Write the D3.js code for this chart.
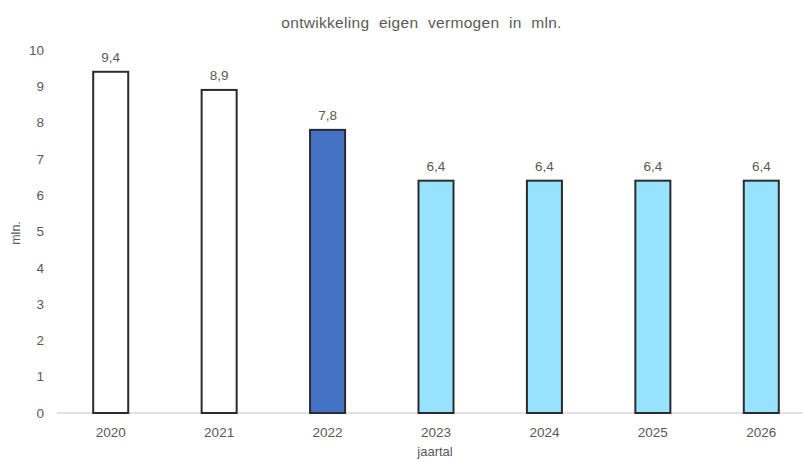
<!DOCTYPE html>
<html><head><meta charset="utf-8">
<script src="https://cdn.jsdelivr.net/npm/d3@7"></script>
<style>body{margin:0;background:#fff}svg{display:block}text{font-family:"Liberation Sans",Arial,sans-serif;fill:#595959}</style>
</head><body><svg id="c" width="803" height="459"></svg>
<script>
const years = ["2020","2021","2022","2023","2024","2025","2026"];
const values = [9.4, 8.9, 7.8, 6.4, 6.4, 6.4, 6.4];
const labels = ["9,4","8,9","7,8","6,4","6,4","6,4","6,4"];
const fills = ["#ffffff","#ffffff","#4472C4","#97E2FF","#97E2FF","#97E2FF","#97E2FF"];
const yTicks = [0,1,2,3,4,5,6,7,8,9,10];

const svg = d3.select("#c");
const x = d3.scaleBand().domain(years).range([56.5, 815.5]).paddingInner(0.677).paddingOuter(0.3385);
const y = d3.scaleLinear().domain([0,10]).range([413, 50]);

svg.append("text").attr("x",421.5).attr("y",28).attr("text-anchor","middle").attr("font-size",15.5)
  .attr("letter-spacing",0.3).attr("word-spacing",5).text("ontwikkeling eigen vermogen in mln.");

// axis line
svg.append("line").attr("x1",57).attr("x2",803).attr("y1",y(0)).attr("y2",y(0)).attr("stroke","#d9d9d9").attr("stroke-width",1.5);

// y tick labels
svg.selectAll(".yt").data(yTicks).enter().append("text").attr("class","yt")
  .attr("x",44).attr("y",d=>y(d)).attr("dy","0.35em").attr("text-anchor","end").attr("font-size",13.5).text(d=>d);

// bars
svg.selectAll(".bar").data(values).enter().append("rect").attr("class","bar")
  .attr("x",(d,i)=>x(years[i])).attr("width",x.bandwidth())
  .attr("y",d=>y(d)).attr("height",d=>y(0)-y(d))
  .attr("fill",(d,i)=>fills[i]).attr("stroke","#2b2b2b").attr("stroke-width",2);

// value labels
svg.selectAll(".vl").data(values).enter().append("text").attr("class","vl")
  .attr("x",(d,i)=>x(years[i])+x.bandwidth()/2).attr("y",d=>y(d)-10)
  .attr("text-anchor","middle").attr("font-size",13.5).text((d,i)=>labels[i]);

// x tick labels
svg.selectAll(".xt").data(years).enter().append("text").attr("class","xt")
  .attr("x",d=>x(d)+x.bandwidth()/2).attr("y",437).attr("text-anchor","middle").attr("font-size",13.5).text(d=>d);

svg.append("text").attr("x",435).attr("y",456).attr("text-anchor","middle").attr("font-size",13).text("jaartal");
svg.append("text").attr("transform","translate(20,233) rotate(-90)").attr("text-anchor","middle").attr("font-size",12.5).text("mln.");
</script></body></html>
